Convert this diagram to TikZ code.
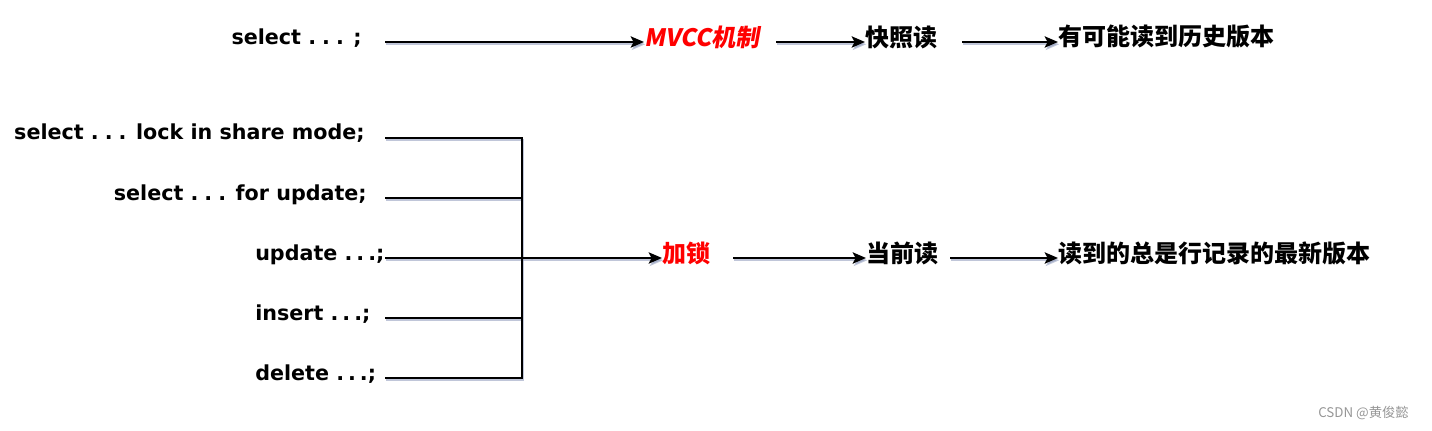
\documentclass[tikz,border=0pt]{standalone}
\usepackage{fontspec}
\setmainfont{DejaVu Sans}
\newfontfamily\cjk{Noto Sans CJK SC}
\newfontfamily\cjkit{Noto Sans CJK SC}[FakeSlant=0.18]
\usetikzlibrary{arrows.meta}
\newcommand\dts{.\kern3pt.\kern3pt.}
\newcommand\dtw{.\kern4.5pt.\kern4.5pt.}
\definecolor{shd}{RGB}{140,152,185}
\definecolor{wm}{RGB}{150,150,150}
\definecolor{hot}{RGB}{255,0,0}
\tikzset{
  lab/.style={font=\fontsize{15.5}{18}\selectfont\bfseries, inner sep=0pt},
  zh/.style={font=\cjk\fontsize{18}{21}\selectfont\bfseries, inner sep=0pt, anchor=west},
  conn/.style={line width=1.5pt, black},
  arr/.style={conn, -{Stealth[length=10pt,width=8.5pt,inset=2.2pt]}},
  shline/.style={line width=1.6pt, shd, opacity=0.55, transform canvas={shift={(0.9pt,-1.7pt)}}},
  sharr/.style={shline, -{Stealth[length=10pt,width=8.5pt,inset=2.2pt]}}
}
\begin{document}
\begin{tikzpicture}[x=0.75pt,y=-0.75pt]
\useasboundingbox (0,0) rectangle (1432,431);
% row 1
\node[lab, anchor=base east] (s0) at (362,45) {select \dtw{} ;};
\node[zh, text=hot] (mvcc) at (644,37) {\cjkit\bfseries MVCC机制};
\node[zh] (kz) at (865,37) {快照读};
\node[zh] (hist) at (1058,37) {有可能读到历史版本};
\coordinate (p0) at (385,42);
\coordinate (p1) at (776,42);
\coordinate (p2) at (962,42);
% lower rows
\node[lab, anchor=base east] (s1) at (365,140) {select \dtw{} lock in share mode;};
\node[lab, anchor=base east] (s2) at (367,200) {select \dtw{} for update;};
\node[lab, anchor=base west] (s3) at (255,260) {update \dts;};
\node[lab, anchor=base west] (s4) at (255,320) {insert \dts;};
\node[lab, anchor=base west] (s5) at (255,380) {delete \dts;};
\node[zh, text=hot] (lock) at (662,253) {加锁};
\node[zh] (cur) at (866,253) {当前读};
\node[zh] (newest) at (1058,253) {读到的总是行记录的最新版本};
\node[font=\cjk\fontsize{10}{12}\selectfont, text=wm, anchor=west, inner sep=0pt] (wmk) at (1318,413) {CSDN @黄俊懿};
\coordinate (l1) at (385,138);
\coordinate (l2) at (385,198);
\coordinate (l3) at (385,258);
\coordinate (l4) at (385,318);
\coordinate (l5) at (385,378);
\coordinate (t1) at (522,138);
\coordinate (t2) at (522,198);
\coordinate (t4) at (522,318);
\coordinate (t5) at (522,378);
\coordinate (q1) at (733,258);
\coordinate (q2) at (950,258);
% shadows
\draw[sharr] (p0) -- (p0 -| mvcc.west);
\draw[sharr] (p1) -- (p1 -| kz.west);
\draw[sharr] (p2) -- (p2 -| hist.west);
\draw[shline] (l1) -- (t1) -- (t5) -- (l5);
\draw[shline] (l2) -- (t2);
\draw[shline] (l4) -- (t4);
\draw[sharr] (l3) -- (l3 -| lock.west);
\draw[sharr] (q1) -- (q1 -| cur.west);
\draw[sharr] (q2) -- (q2 -| newest.west);
% connectors
\draw[arr] (p0) -- (p0 -| mvcc.west);
\draw[arr] (p1) -- (p1 -| kz.west);
\draw[arr] (p2) -- (p2 -| hist.west);
\draw[conn] (l1) -- (t1) -- (t5) -- (l5);
\draw[conn] (l2) -- (t2);
\draw[conn] (l4) -- (t4);
\draw[arr] (l3) -- (l3 -| lock.west);
\draw[arr] (q1) -- (q1 -| cur.west);
\draw[arr] (q2) -- (q2 -| newest.west);
\end{tikzpicture}
\end{document}
